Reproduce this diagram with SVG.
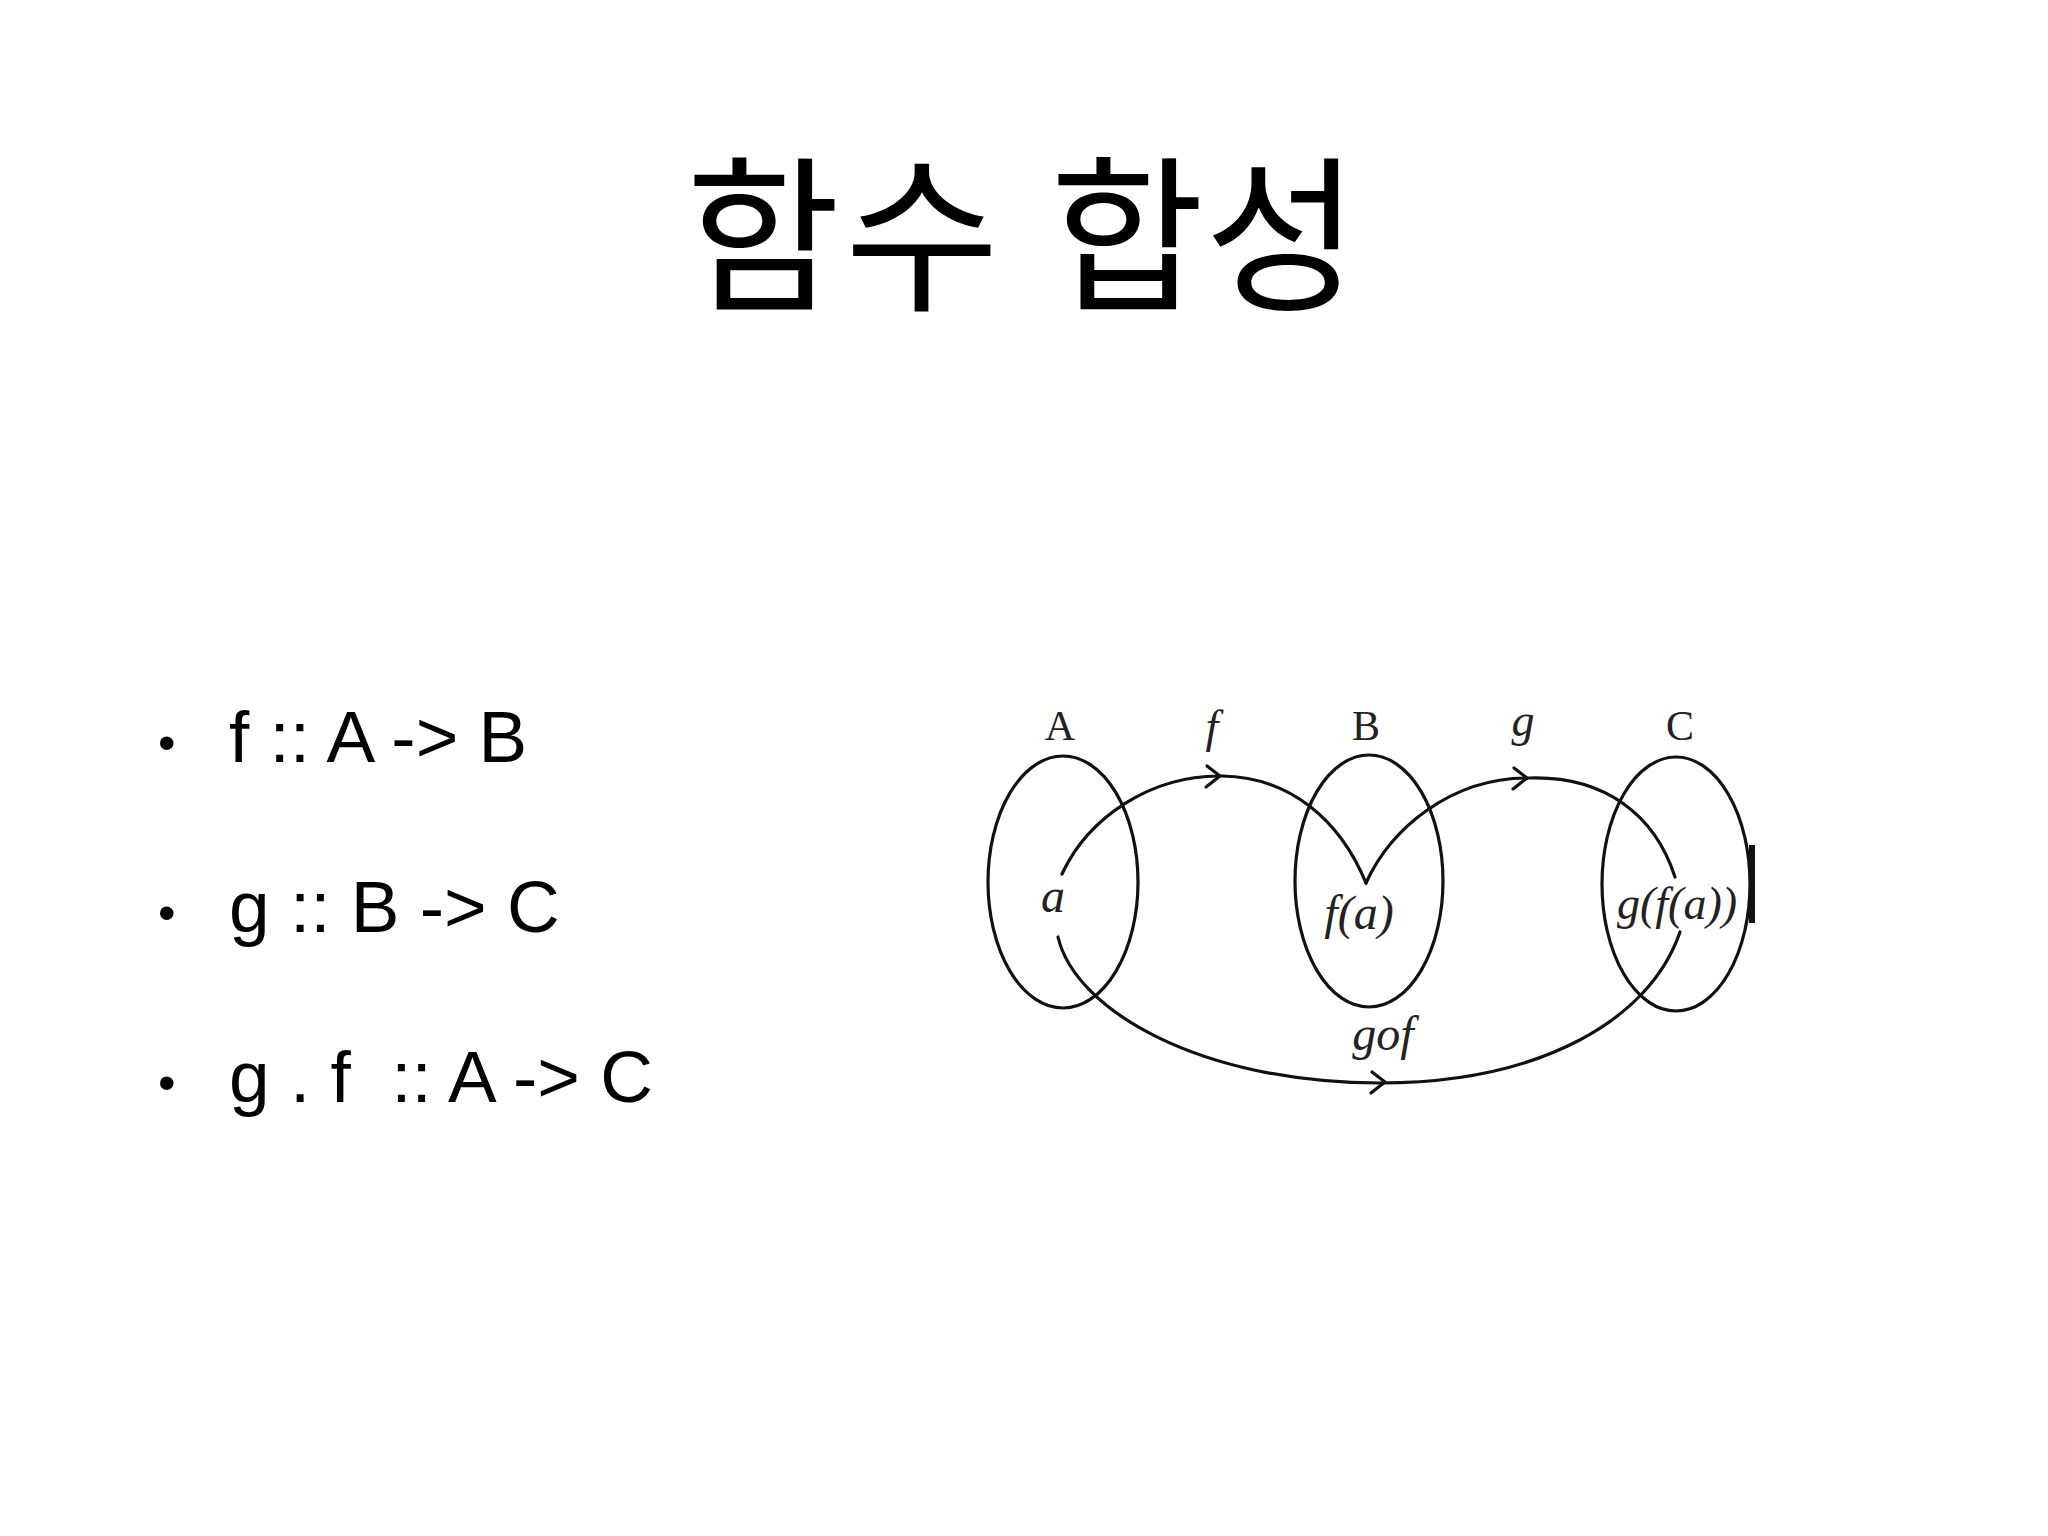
<svg xmlns="http://www.w3.org/2000/svg" width="2048" height="1536" viewBox="0 0 2048 1536">
<style>
.title{font-family:"Noto Sans CJK KR","Noto Sans",sans-serif;font-size:168px;fill:#000}
.bul{font-family:"Liberation Sans",Arial,sans-serif;font-size:73px;fill:#000;white-space:pre}
.dot{font-family:"Liberation Sans",Arial,sans-serif;font-size:50px;fill:#000}
.set{fill:none;stroke:#111;stroke-width:3.2}
.conn{fill:none;stroke:#111;stroke-width:3.2;stroke-linecap:round;stroke-linejoin:round}
.lab{font-family:"Liberation Serif","Times New Roman",serif;font-size:42px;fill:#222}
.it{font-family:"Liberation Serif","Times New Roman",serif;font-style:italic;fill:#222}
</style>
<rect width="2048" height="1536" fill="#fff"/>
<g id="title" class="title" text-anchor="middle">
<text x="763" y="298">함</text>
<text x="922" y="298">수</text>
<text x="1127" y="298">합</text>
<text x="1282" y="298">성</text>
</g>
<g id="bullets">
<text class="dot" x="158" y="760">•</text>
<text class="bul" x="229" y="762">f :: A -&gt; B</text>
<text class="dot" x="158" y="930">•</text>
<text class="bul" x="229" y="932">g :: B -&gt; C</text>
<text class="dot" x="158" y="1100">•</text>
<text class="bul" x="229" y="1102">g . f  :: A -&gt; C</text>
</g>
<g id="setA">
<ellipse class="set" cx="1063" cy="882" rx="75" ry="126"/>
<text class="lab" x="1060" y="740" text-anchor="middle">A</text>
<text class="it" x="1053" y="912" font-size="48" text-anchor="middle">a</text>
</g>
<g id="setB">
<ellipse class="set" cx="1369" cy="881" rx="74" ry="126"/>
<text class="lab" x="1366" y="740" text-anchor="middle">B</text>
<text class="it" x="1359" y="929" font-size="48" text-anchor="middle">f(a)</text>
</g>
<g id="setC">
<ellipse class="set" cx="1676" cy="884" rx="74" ry="127"/>
<text class="lab" x="1680" y="740" text-anchor="middle">C</text>
<text class="it" x="1677" y="919" font-size="46" text-anchor="middle">g(f(a))</text>
<rect x="1749" y="845" width="6" height="78" fill="#111"/>
</g>
<g id="connectors">
<path class="conn" d="M1062 874 C1088 818 1150 775 1222 776 C1290 777 1340 820 1366 883"/>
<path class="conn" d="M1207 766 L1220 776 L1206 787"/>
<text class="it" x="1212" y="742" font-size="46" text-anchor="middle">f</text>
<path class="conn" d="M1366 883 C1390 830 1450 777 1530 778 C1605 776 1655 815 1675 877"/>
<path class="conn" d="M1514 768 L1527 778 L1513 789"/>
<text class="it" x="1523" y="736" font-size="46" text-anchor="middle">g</text>
<path class="conn" d="M1058 937 C1075 1010 1200 1083 1380 1083 C1540 1083 1650 1020 1680 932"/>
<path class="conn" d="M1372 1072 L1385 1082 L1371 1093"/>
<text class="it" x="1383" y="1050" font-size="48" text-anchor="middle">gof</text>
</g>
</svg>
